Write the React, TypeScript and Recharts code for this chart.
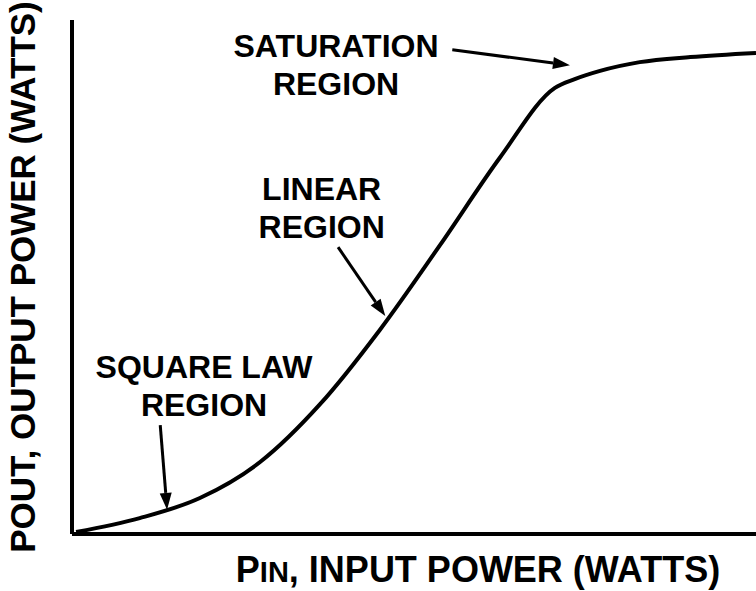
import React from 'react';
import {
  LineChart,
  Line,
  XAxis,
  YAxis,
  Label,
  ReferenceDot,
  ReferenceLine
} from 'recharts';

// input power (x) and output power (y), arbitrary units 0-100
const inputPower = [0.6, 9.9, 18.7, 27.5, 36.3, 45.0, 53.8, 62.6, 70.6, 73.5, 77.2, 83.0, 90.4, 100];
const outputPower = [0.4, 3.1, 7.0, 14.0, 25.3, 39.7, 56.2, 73.3, 86.8, 88.5, 90.1, 91.8, 92.8, 93.6];

const curveData = inputPower.map((pin, i) => ({ pin, pout: outputPower[i] }));

// region callouts: text anchor and arrow (tail -> tip), in data units
const regionLabels = [
  { lines: ['SATURATION', 'REGION'], x: 38.6, y: 92.8 },
  { lines: ['LINEAR', 'REGION'], x: 36.5, y: 65.0 },
  { lines: ['SQUARE LAW', 'REGION'], x: 19.3, y: 30.4 }
];

const regionArrows = [
  { from: { x: 55.6, y: 94.2 }, to: { x: 72.8, y: 91.2 } },
  { from: { x: 38.9, y: 55.8 }, to: { x: 45.8, y: 42.4 } },
  { from: { x: 12.9, y: 21.2 }, to: { x: 13.9, y: 4.7 } }
];

const FONT = '"Liberation Sans", Arial, Helvetica, sans-serif';

const Arrow = (props: any) => {
  const { x1, y1, x2, y2 } = props;
  const dx = x2 - x1;
  const dy = y2 - y1;
  const len = Math.sqrt(dx * dx + dy * dy) || 1;
  const ux = dx / len;
  const uy = dy / len;
  const headLen = 17;
  const headW = 6;
  const bx = x2 - ux * headLen;
  const by = y2 - uy * headLen;
  const pts = `${x2},${y2} ${bx - uy * headW},${by + ux * headW} ${bx + uy * headW},${by - ux * headW}`;
  return (
    <g>
      <line x1={x1} y1={y1} x2={bx} y2={by} stroke="#000" strokeWidth={3} />
      <polygon points={pts} fill="#000" />
    </g>
  );
};

const makeLabel = (lines: string[]) => (props: any) => (
  <text
    x={props.cx}
    y={props.cy}
    textAnchor="middle"
    fontFamily={FONT}
    fontWeight="bold"
    fontSize={32}
    fill="#000"
  >
    {lines.map((line, i) => (
      <tspan key={line + i} x={props.cx} dy={i === 0 ? 0 : 38}>
        {line}
      </tspan>
    ))}
  </text>
);

const XTitle = (props: any) => {
  const { x, y } = props.viewBox;
  return (
    <text x={x + 406} y={y + 48} textAnchor="middle" fontFamily={FONT} fontWeight="bold" fontSize={36} fill="#000">
      P<tspan fontSize={29}>IN</tspan>, INPUT POWER (WATTS)
    </text>
  );
};

const YTitle = (props: any) => {
  const { x, y, height } = props.viewBox;
  const cx = x - 36;
  const cy = y + height / 2 + 0;
  return (
    <text
      x={cx}
      y={cy}
      transform={`rotate(-90, ${cx}, ${cy})`}
      textAnchor="middle"
      fontFamily={FONT}
      fontWeight="bold"
      fontSize={35}
      fill="#000"
    >
      POUT, OUTPUT POWER (WATTS)
    </text>
  );
};

export default function App() {
  return (
    <div style={{ position: 'absolute', left: 0, top: 0, background: '#fff' }}>
      <LineChart
        width={756}
        height={591}
        data={curveData}
        margin={{ top: 20, right: 0, bottom: 56, left: 71 }}
      >
        <XAxis
          dataKey="pin"
          type="number"
          domain={[0, 100]}
          height={1}
          tick={false}
          tickLine={false}
          axisLine={{ stroke: '#000', strokeWidth: 4 }}
        >
          <Label content={XTitle} />
        </XAxis>
        <YAxis
          type="number"
          domain={[0, 100]}
          width={1}
          tick={false}
          tickLine={false}
          axisLine={{ stroke: '#000', strokeWidth: 4 }}
        >
          <Label content={YTitle} />
        </YAxis>
        <Line
          type="monotone"
          dataKey="pout"
          stroke="#000"
          strokeWidth={4}
          dot={false}
          isAnimationActive={false}
        />
        {regionArrows.map((a, i) => (
          <ReferenceLine
            key={'arrow' + i}
            segment={[a.from, a.to]}
            ifOverflow="visible"
            shape={Arrow}
          />
        ))}
        {regionLabels.map((l, i) => (
          <ReferenceDot
            key={'label' + i}
            x={l.x}
            y={l.y}
            r={0}
            ifOverflow="visible"
            shape={makeLabel(l.lines)}
          />
        ))}
      </LineChart>
    </div>
  );
}
